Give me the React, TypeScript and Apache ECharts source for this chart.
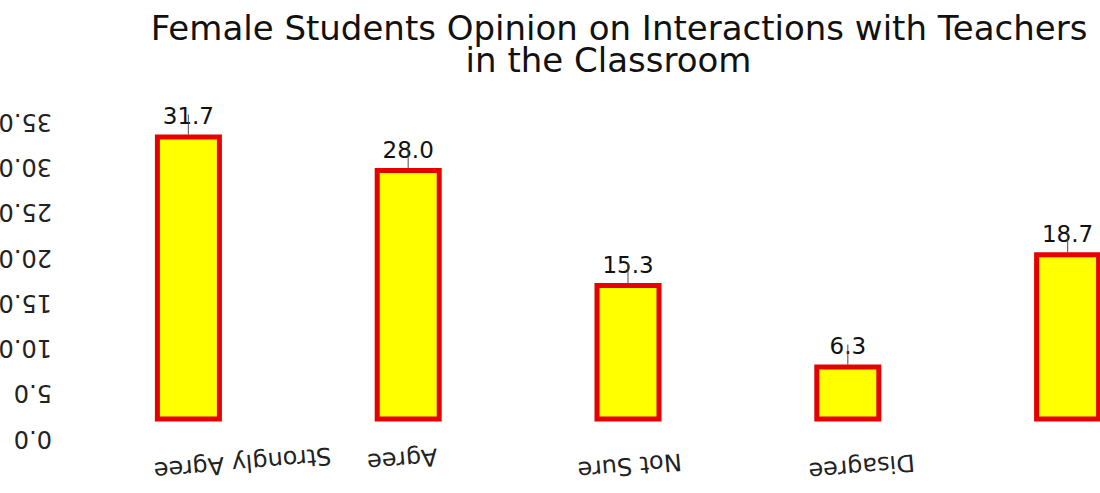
import React, { useEffect, useRef } from "react";
import * as echarts from "echarts";

const categories = ["Strongly Agree", "Agree", "Not Sure", "Disagree", "Strongly Disagree"];
const percentValues = [31.7, 28.0, 15.3, 6.3, 18.7];
const yTicks = { min: 0, max: 35, interval: 5 };
const titleLines = ["Female Students Opinion on Interactions with Teachers", "in the Classroom"];

// per-label nudges (padding) to mimic the reference's offsets
const labelPadding: number[][] = [
  [0, 105, 10, 0],
  [0, 0, 1, 14],
  [0, 0, 8, 0],
  [0, 24, 10, 0],
  [0, 0, 8, 0],
];

export default function App() {
  const ref = useRef<HTMLDivElement>(null);
  useEffect(() => {
    if (!ref.current) return;
    const chart = echarts.init(ref.current, undefined, { renderer: "svg" });
    const font = "DejaVu Sans";
    chart.setOption({
      animation: false,
      backgroundColor: "#ffffff",
      graphic: [
        {
          type: "text",
          x: 619,
          y: 28,
          silent: true,
          style: {
            text: titleLines[0],
            fontFamily: font,
            fontSize: 34,
            lineHeight: 30,
            fill: "#111111",
            align: "center",
            verticalAlign: "middle",
          },
        },
        {
          type: "text",
          x: 608.5,
          y: 60,
          silent: true,
          style: {
            text: titleLines[1],
            fontFamily: font,
            fontSize: 34,
            lineHeight: 30,
            fill: "#111111",
            align: "center",
            verticalAlign: "middle",
          },
        },
      ],
      grid: {
        left: 78.5,
        width: 1099,
        top: 104.75,
        bottom: 71.5,
        outerBoundsMode: "none",
        containLabel: false,
      },
      xAxis: {
        type: "category",
        data: categories.map((c, i) => ({
          value: c,
          textStyle: {
            align: "center",
            verticalAlign: "bottom",
            lineHeight: 24,
            padding: labelPadding[i],
          },
        })),
        axisLine: { show: false },
        axisTick: { show: false },
        axisLabel: {
          interval: 0,
          rotate: 185,
          margin: 24.5,
          fontFamily: font,
          fontSize: 24,
          color: "#222222",
          hideOverlap: false,
          formatter: (v: string, i: number) => (i === categories.length - 1 ? "" : v),
        },
      },
      yAxis: {
        type: "value",
        min: yTicks.min,
        max: yTicks.max,
        interval: yTicks.interval,
        splitLine: { show: false },
        axisLine: { show: false },
        axisTick: { show: false },
        axisLabel: {
          rotate: 180,
          align: "left",
          verticalAlign: "bottom",
          lineHeight: 34,
          margin: 26.5,
          fontFamily: font,
          fontSize: 24,
          color: "#222222",
          formatter: (v: number) => v.toFixed(1),
        },
      },
      series: [
        {
          type: "bar",
          data: percentValues,
          barWidth: 67,
          itemStyle: { color: "#ffff00", borderColor: "#e60000", borderWidth: 5 },
          label: {
            show: true,
            position: "top",
            distance: 7,
            fontFamily: font,
            fontSize: 23,
            color: "#111111",
            formatter: (p: any) => Number(p.value).toFixed(1),
          },
        },
        {
          type: "scatter",
          data: percentValues,
          symbol: "rect",
          symbolSize: [1.2, 20],
          symbolOffset: [0, -10],
          itemStyle: { color: "#444444" },
          silent: true,
          z: 5,
        },
      ],
    });
    return () => chart.dispose();
  }, []);
  return (
    <div
      ref={ref}
      style={{ position: "absolute", left: 0, top: 0, width: 1100, height: 493 }}
    />
  );
}
